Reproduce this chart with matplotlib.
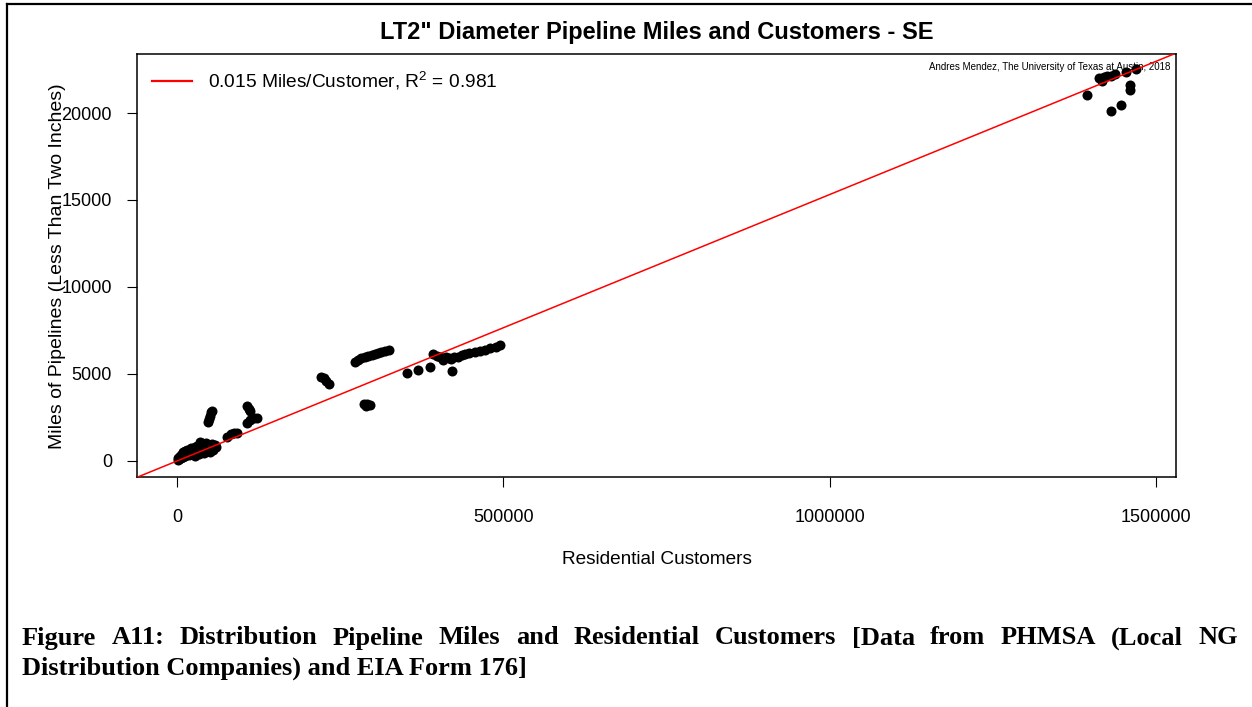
import matplotlib
matplotlib.use("Agg")
import matplotlib.pyplot as plt
from matplotlib.lines import Line2D

# ---------------- data ----------------
near_x = [1000, 2000, 3000, 5000, 6000, 8000, 9000, 10000, 12000, 13000, 15000, 16000,
          18000, 19000, 21000, 22000, 24000, 25000, 27000, 28000, 30000, 31000, 33000,
          34000, 35000, 36000, 37000, 38000, 39000, 40000, 42000, 43000, 45000, 46000,
          48000, 50000, 51000, 53000, 55000, 56000, 58000, 60000]
near_y = [50, 200, 100, 300, 150, 400, 250, 500, 300, 550, 400, 650,
          350, 600, 500, 750, 400, 650, 800, 300, 550, 850, 400,
          700, 1100, 900, 500, 1050, 1000, 650, 450, 850, 1050, 600,
          900, 500, 750, 1000, 650, 850, 900, 800]

small_x = [47000, 48500, 50000, 51500, 53000,
           77000, 82000, 87000, 92000,
           108000, 110000, 112000, 107000, 112000, 118000, 122000]
small_y = [2250, 2400, 2600, 2800, 2900,
           1400, 1550, 1600, 1600,
           3150, 3000, 2850, 2200, 2350, 2450, 2450]

mid_x = [221000, 225000, 229000, 233000,
         287000, 291000, 295000, 290000,
         272000, 277000, 282000, 288000, 293000, 298000, 303000, 308000, 313000, 318000, 325000]
mid_y = [4800, 4750, 4600, 4450,
         3300, 3250, 3200, 3150,
         5700, 5800, 5900, 5980, 6050, 6100, 6150, 6200, 6250, 6300, 6380]

right_x = [352000, 369000, 387000, 421000,
           392000, 398000, 403000, 408000, 412000, 416000, 420000, 425000, 430000,
           436000, 441000, 448000, 456000, 464000, 472000, 480000, 488000, 495000]
right_y = [5060, 5230, 5400, 5170,
           6150, 6050, 5950, 5800, 6000, 5900, 5850, 5950, 6000,
           6100, 6150, 6200, 6280, 6350, 6400, 6480, 6550, 6650]

big_x = [1394000, 1412000, 1416000, 1417000, 1420000, 1424000, 1430000, 1436000,
         1454000, 1469000, 1459000, 1459000, 1446000, 1431000]
big_y = [21030, 22000, 21900, 21840, 22050, 22100, 22150, 22240,
         22350, 22530, 21610, 21320, 20460, 20110]

customers = near_x + small_x + mid_x + right_x + big_x
miles = near_y + small_y + mid_y + right_y + big_y

fit_slope = 0.01532
fit_intercept = 0.0

x_ticks = [0, 500000, 1000000, 1500000]
y_ticks = [0, 5000, 10000, 15000, 20000]

title = 'LT2" Diameter Pipeline Miles and Customers - SE'
xlabel = "Residential Customers"
ylabel = "Miles of Pipelines (Less Than Two Inches)"
legend_label = "0.015 Miles/Customer, R$^{2}$ = 0.981"
credit = "Andres Mendez, The University of Texas at Austin, 2018"
caption1 = "Figure A11: Distribution Pipeline Miles and Residential Customers [Data from PHMSA (Local NG"
caption2 = "Distribution Companies) and EIA Form 176]"

# ---------------- figure ----------------
plt.rcParams["font.family"] = ["Liberation Sans", "DejaVu Sans"]
plt.rcParams["mathtext.fontset"] = "custom"
plt.rcParams["mathtext.rm"] = "Liberation Sans"
W, H = 1252, 707
fig = plt.figure(figsize=(W / 100, H / 100), dpi=100)
fig.patch.set_facecolor("white")

def fx(px):
    return px / W

def fy(py):
    return 1 - py / H

ax = fig.add_axes([fx(137), fy(477), fx(1176) - fx(137), fy(54) - fy(477)])
ax.set_xlim(-61200, 1530000)
ax.set_ylim(-920, 23391)

ax.scatter(customers, miles, s=52, color="black", zorder=3, linewidths=0)
ax.axline((0, fit_intercept), slope=fit_slope, color="#ff0000", lw=1.1, zorder=4)

ax.set_xticks(x_ticks)
ax.set_xticklabels([str(v) for v in x_ticks])
ax.set_yticks(y_ticks)
ax.set_yticklabels([str(v) for v in y_ticks])
ax.tick_params(axis="both", direction="out", length=7, width=0.8, labelsize=13, colors="black")
ax.tick_params(axis="x", pad=16)
ax.tick_params(axis="y", pad=11)
for sp in ax.spines.values():
    sp.set_linewidth(1.1)
    sp.set_color("black")

fig.text(fx(657), fy(32), title, ha="center", va="center", fontsize=17, fontweight="bold")
fig.text(fx(657), fy(560), xlabel, ha="center", va="center", fontsize=13.7)
fig.text(fx(58), fy(266), ylabel, ha="center", va="center", fontsize=14, rotation=90)
ax.text(0.995, 0.97, credit, transform=ax.transAxes, ha="right", va="center", fontsize=7)

leg_handle = Line2D([], [], color="#ff0000", lw=1.6)
ax.legend([leg_handle], [legend_label], loc="upper left", bbox_to_anchor=(0.0, 1.0),
          frameon=False, fontsize=13.8, handlelength=2.08, handletextpad=0.83,
          borderaxespad=0.38)

# page frame lines
fig.add_artist(Line2D([fx(7), 1], [fy(4), fy(4)], color="black", lw=1.6, transform=fig.transFigure))
fig.add_artist(Line2D([fx(7), fx(7)], [0, fy(4)], color="black", lw=1.6, transform=fig.transFigure))

# caption: justified first line
cap_font = dict(family=["Liberation Serif", "DejaVu Serif"], fontweight="bold", fontsize=19)
words = caption1.split(" ")
left_px, right_px = 22, 1238
fig.canvas.draw()
renderer = fig.canvas.get_renderer()
objs = [fig.text(0, fy(638), w, ha="left", va="center", **cap_font) for w in words]
widths = [o.get_window_extent(renderer).width for o in objs]
gap = (right_px - left_px - sum(widths)) / (len(words) - 1)
xpos = left_px
for o, w in zip(objs, widths):
    o.set_x(fx(xpos))
    xpos += w + gap
fig.text(fx(22), fy(668), caption2, ha="left", va="center", **cap_font)

fig.savefig("out.png", dpi=100, facecolor="white")
